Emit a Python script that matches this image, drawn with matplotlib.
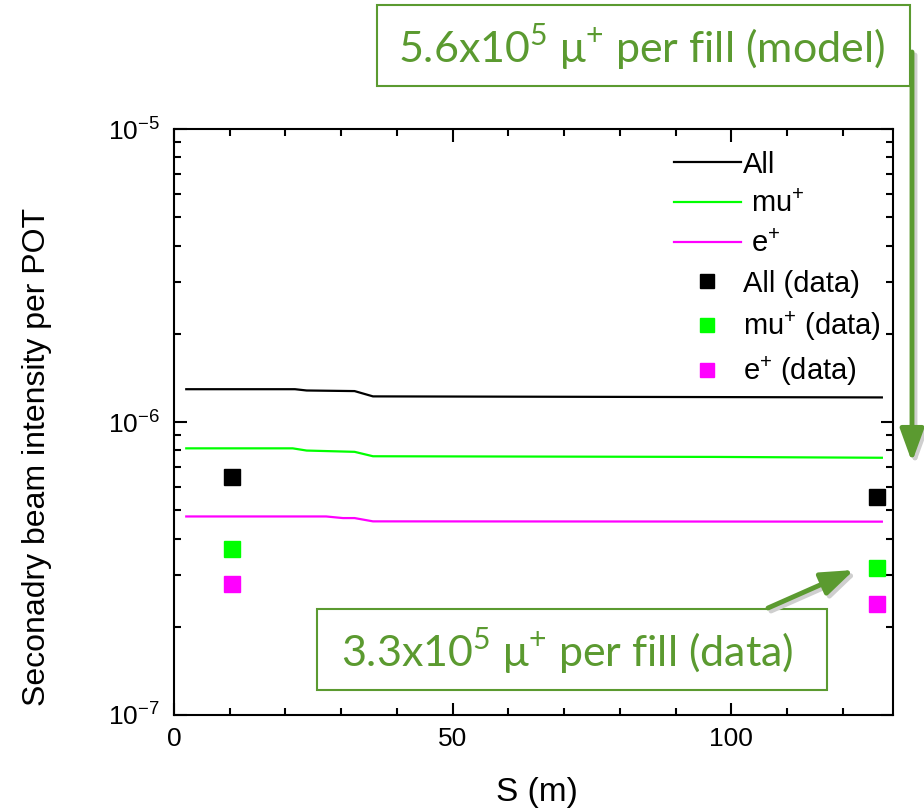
import numpy as np
import matplotlib
matplotlib.use('Agg')
import matplotlib.pyplot as plt
from matplotlib.patches import Rectangle, FancyArrowPatch
from matplotlib.ticker import LogLocator, MultipleLocator, NullFormatter

plt.rcParams['font.family'] = ['Liberation Sans', 'DejaVu Sans']

# model curves
s_all = [2.2, 21.7, 23.8, 32.4, 35.7, 127]
v_all = [1.294e-6, 1.294e-6, 1.281e-6, 1.275e-6, 1.223e-6, 1.213e-6]
s_mu = [2.2, 21.3, 23.8, 32.4, 35.7, 97, 127]
v_mu = [8.13e-7, 8.13e-7, 7.99e-7, 7.91e-7, 7.64e-7, 7.60e-7, 7.55e-7]
s_e = [2.2, 27.3, 30.3, 32.4, 35.7, 127]
v_e = [4.76e-7, 4.76e-7, 4.70e-7, 4.70e-7, 4.58e-7, 4.57e-7]

# measured points
s_data = [10.4, 126.2]
d_all = [6.51e-7, 5.56e-7]
d_mu = [3.70e-7, 3.18e-7]
d_e = [2.80e-7, 2.39e-7]

GREEN = '#5B9A30'
W, H = 924, 808


def fx(px):
    return px / W


def fy(py):
    return 1 - py / H


fig = plt.figure(figsize=(9.24, 8.08), dpi=100)
ax = fig.add_axes([fx(174), fy(715), fx(893) - fx(174), fy(129) - fy(715)])

ax.plot(s_all, v_all, '-', color='black', lw=1.6, label='All')
ax.plot(s_mu, v_mu, '-', color='#00FF00', lw=1.6, label=' mu$^{\\mathdefault{+}}$')
ax.plot(s_e, v_e, '-', color='#FF00FF', lw=1.6, label=' e$^{\\mathdefault{+}}$')
ax.plot(s_data, d_all, 's', color='black', ms=11, label='All (data)')
ax.plot(s_data, d_mu, 's', color='#00FF00', ms=11, label='mu$^{\\mathdefault{+}}$ (data)')
ax.plot(s_data, d_e, 's', color='#FF00FF', ms=11, label='e$^{\\mathdefault{+}}$ (data)')

ax.set_yscale('log')
ax.set_ylim(1e-7, 1e-5)
ax.set_xlim(0, 129)
ax.xaxis.set_major_locator(MultipleLocator(50))
ax.xaxis.set_minor_locator(MultipleLocator(10))
ax.yaxis.set_major_locator(LogLocator(base=10, numticks=5))
ax.yaxis.set_minor_locator(LogLocator(base=10, subs=np.arange(2, 10), numticks=20))
ax.yaxis.set_minor_formatter(NullFormatter())
ax.tick_params(which='both', direction='in', top=True, right=True, width=1.5)
ax.tick_params(which='major', length=9, labelsize=19)
ax.tick_params(axis='x', which='major', pad=9)
ax.tick_params(axis='y', which='major', pad=10)
ax.tick_params(which='minor', length=5)
for sp in ax.spines.values():
    sp.set_linewidth(1.5)

ax.set_xlabel('S (m)', fontsize=24)
ax.xaxis.set_label_coords(0.505, -0.105)
ax.set_ylabel('Seconadry beam intensity per POT', fontsize=23)
ax.yaxis.set_label_coords(-0.170, 0.44)

ax.legend(loc='upper right', bbox_to_anchor=(1.02, 1.008), frameon=False, fontsize=21,
          handlelength=2.3, handletextpad=0.08, labelspacing=0.4, markerscale=0.95)

# annotation boxes
fig.add_artist(Rectangle((fx(377), fy(86)), fx(910) - fx(377), fy(5) - fy(86),
                         transform=fig.transFigure, fill=False, ec=GREEN, lw=1.5))
fig.text(fx(641), fy(47), '5.6x10$^{\\mathdefault{5}}$ μ$^{\\mathdefault{+}}$ per fill (model)',
         color=GREEN, fontsize=31, family=['Lato', 'DejaVu Sans'], ha='center', va='center')

fig.add_artist(Rectangle((fx(317), fy(690)), fx(827) - fx(317), fy(609) - fy(690),
                         transform=fig.transFigure, fill=False, ec=GREEN, lw=1.5))
fig.text(fx(567), fy(651), '3.3x10$^{\\mathdefault{5}}$ μ$^{\\mathdefault{+}}$ per fill (data)',
         color=GREEN, fontsize=31, family=['Lato', 'DejaVu Sans'], ha='center', va='center')

# arrows (with a light drop shadow)
for dx, dy, c in [(3, 3, '#CFCFCF'), (0, 0, GREEN)]:
    fig.add_artist(FancyArrowPatch((fx(912 + dx), fy(52 + dy)), (fx(912 + dx), fy(462 + dy)),
                                   transform=fig.transFigure, arrowstyle='-|>,head_width=0.4,head_length=1.1',
                                   mutation_scale=18, lw=3.5, color=c, shrinkA=0, shrinkB=0))
    fig.add_artist(FancyArrowPatch((fx(768 + dx), fy(608 + dy)), (fx(854 + dx), fy(570 + dy)),
                                   transform=fig.transFigure, arrowstyle='-|>,head_width=0.4,head_length=1.1',
                                   mutation_scale=18, lw=3.5, color=c, shrinkA=0, shrinkB=0))

fig.savefig('out.png', dpi=100)
